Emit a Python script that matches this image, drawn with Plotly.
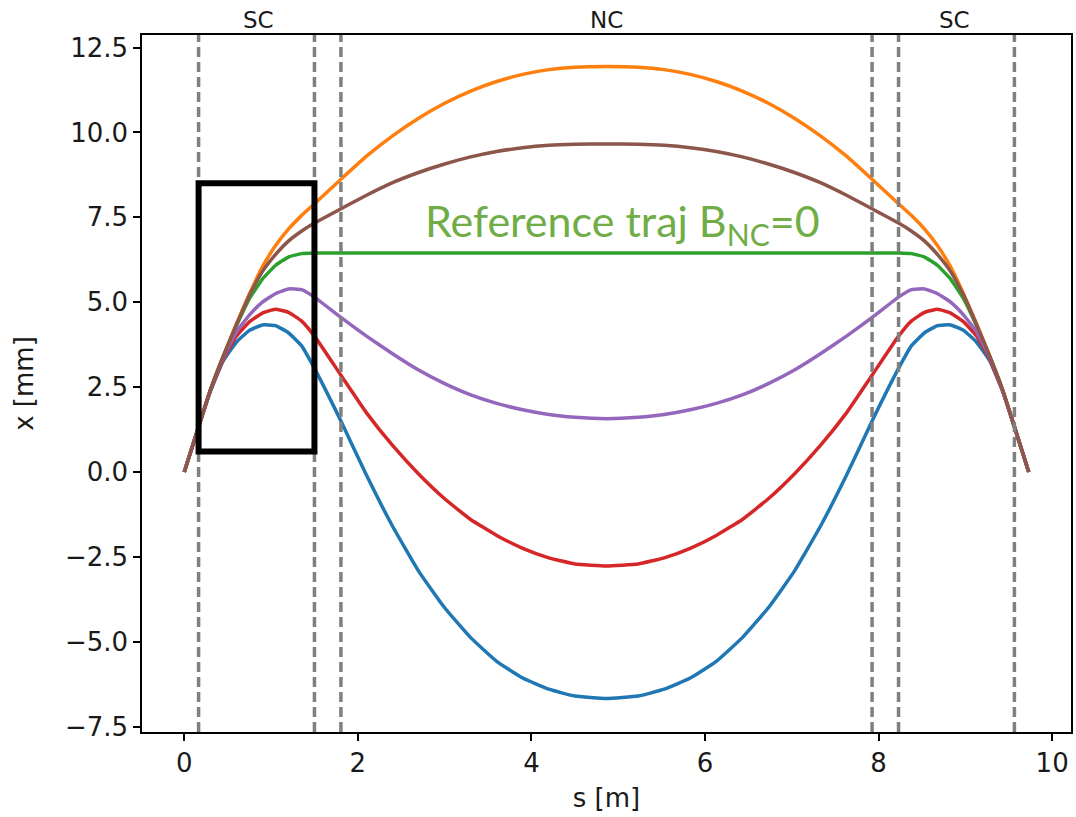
import plotly.graph_objects as go

# Beam-line position along the cell [m]
S = [0, 0.165, 0.3, 0.45, 0.6, 0.75, 0.9, 1.05, 1.2, 1.35, 1.5,
     1.805, 2.1, 2.4, 2.7, 3.0, 3.3, 3.6, 3.9, 4.2, 4.5,
     4.865,
     5.23, 5.53, 5.83, 6.13, 6.43, 6.73, 7.03, 7.33, 7.63, 7.925,
     8.23, 8.38, 8.53, 8.68, 8.83, 8.98, 9.13, 9.28, 9.43, 9.565, 9.73]

# Horizontal trajectories x(s) [mm] for the different NC field settings
x_blue = [0, 1.33, 2.37, 3.28, 3.82, 4.17, 4.33, 4.31, 4.1, 3.72, 3.05,
          1.5, -0.1, -1.6, -2.92, -4.0, -4.88, -5.58, -6.07, -6.4, -6.6,
          -6.67,
          -6.6, -6.4, -6.07, -5.58, -4.88, -4.0, -2.92, -1.6, -0.1, 1.5,
          3.05, 3.72, 4.1, 4.31, 4.33, 4.17, 3.82, 3.28, 2.37, 1.33, 0]
x_orange = [0, 1.33, 2.41, 3.42, 4.36, 5.24, 6.04, 6.66, 7.15, 7.55, 7.9,
            8.62, 9.3, 9.9, 10.42, 10.86, 11.22, 11.5, 11.71, 11.85, 11.92,
            11.94,
            11.92, 11.85, 11.71, 11.5, 11.22, 10.86, 10.42, 9.9, 9.3, 8.62,
            7.9, 7.55, 7.15, 6.66, 6.04, 5.24, 4.36, 3.42, 2.41, 1.33, 0]
x_green = [0, 1.33, 2.4, 3.4, 4.3, 5.1, 5.68, 6.08, 6.33, 6.43, 6.45,
           6.45, 6.45, 6.45, 6.45, 6.45, 6.45, 6.45, 6.45, 6.45, 6.45,
           6.45,
           6.45, 6.45, 6.45, 6.45, 6.45, 6.45, 6.45, 6.45, 6.45, 6.45,
           6.45, 6.43, 6.33, 6.08, 5.68, 5.1, 4.3, 3.4, 2.4, 1.33, 0]
x_red = [0, 1.33, 2.38, 3.33, 4.0, 4.42, 4.68, 4.79, 4.7, 4.45, 4.0,
         2.85, 1.74, 0.78, -0.06, -0.79, -1.4, -1.87, -2.25, -2.53, -2.71,
         -2.77,
         -2.71, -2.53, -2.25, -1.87, -1.4, -0.79, -0.06, 0.78, 1.74, 2.85,
         4.0, 4.45, 4.7, 4.79, 4.68, 4.42, 4.0, 3.33, 2.38, 1.33, 0]
x_purple = [0, 1.33, 2.39, 3.38, 4.12, 4.62, 5.0, 5.25, 5.39, 5.37, 5.15,
            4.55, 4.0, 3.48, 3.0, 2.6, 2.27, 2.02, 1.83, 1.69, 1.61,
            1.57,
            1.61, 1.69, 1.83, 2.02, 2.27, 2.6, 3.0, 3.48, 4.0, 4.55,
            5.15, 5.37, 5.39, 5.25, 5.0, 4.62, 4.12, 3.38, 2.39, 1.33, 0]
x_brown = [0, 1.33, 2.41, 3.41, 4.33, 5.2, 5.9, 6.4, 6.8, 7.09, 7.33,
           7.75, 8.15, 8.52, 8.82, 9.07, 9.28, 9.44, 9.55, 9.62, 9.65,
           9.66,
           9.65, 9.62, 9.55, 9.44, 9.28, 9.07, 8.82, 8.52, 8.15, 7.75,
           7.33, 7.09, 6.8, 6.4, 5.9, 5.2, 4.33, 3.41, 2.41, 1.33, 0]

series = [x_blue, x_orange, x_green, x_red, x_purple, x_brown]
colors = ["#1f77b4", "#ff7f0e", "#2ca02c", "#d62728", "#9467bd", "#8c564b"]

# Magnet edges [m] and section labels
edges = [0.165, 1.50, 1.805, 7.925, 8.23, 9.565]
section_names = ["SC", "NC", "SC"]
section_centers = [0.85, 4.865, 8.88]

# Highlighted entry region (s range, x range)
box_s = [0.165, 1.50]
box_x = [0.6, 8.5]

x_ticks = [0, 2, 4, 6, 8, 10]
y_ticks = [-7.5, -5.0, -2.5, 0.0, 2.5, 5.0, 7.5, 10.0, 12.5]

FONT = "DejaVu Sans"
TICK_SIZE = 26
INK = "#1a1a1a"

fig = go.Figure()
for ys, c in zip(series, colors):
    fig.add_trace(go.Scatter(x=S, y=ys, mode="lines",
                             line=dict(color=c, width=3.5, shape="spline",
                                       smoothing=0.4)))

for e in edges:
    fig.add_shape(type="line", x0=e, x1=e, y0=0, y1=1, xref="x", yref="paper",
                  line=dict(color="#808080", width=3.5, dash="10px,5px"),
                  layer="above")

fig.add_shape(type="rect", x0=box_s[0], x1=box_s[1], y0=box_x[0], y1=box_x[1],
              xref="x", yref="y", line=dict(color="black", width=6),
              fillcolor="rgba(0,0,0,0)", layer="above")

for name, c in zip(section_names, section_centers):
    fig.add_annotation(x=c, y=1, xref="x", yref="paper", text=name,
                       showarrow=False, yanchor="bottom", yshift=0,
                       font=dict(family=FONT, size=23, color=INK))

fig.add_annotation(x=2.75, y=6.42, xref="x", yref="y",
                   text="Reference traj B<sub>NC</sub>=0",
                   showarrow=False, xanchor="left", yanchor="bottom",
                   font=dict(family="Lato", size=43, color="#70ad47"))

axis_common = dict(showline=True, mirror=True, linecolor="black", linewidth=1.5,
                   ticks="outside", ticklen=7, tickwidth=1.5, tickcolor="black",
                   showgrid=False, zeroline=False,
                   tickfont=dict(family=FONT, size=TICK_SIZE, color=INK))

fig.update_xaxes(range=[-0.487, 10.217], tickvals=x_ticks,
                 title=dict(text="s [m]", font=dict(family=FONT, size=TICK_SIZE, color=INK),
                            standoff=12),
                 **axis_common)
fig.update_yaxes(range=[-7.66, 12.87], tickvals=y_ticks, tickformat=".1f",
                 title=dict(text="x [mm]", font=dict(family=FONT, size=TICK_SIZE, color=INK),
                            standoff=24),
                 **axis_common)

fig.update_layout(width=1076, height=817,
                  margin=dict(l=142, r=3, t=35, b=85),
                  plot_bgcolor="white", paper_bgcolor="white",
                  showlegend=False)

fig.write_html("out.html")
